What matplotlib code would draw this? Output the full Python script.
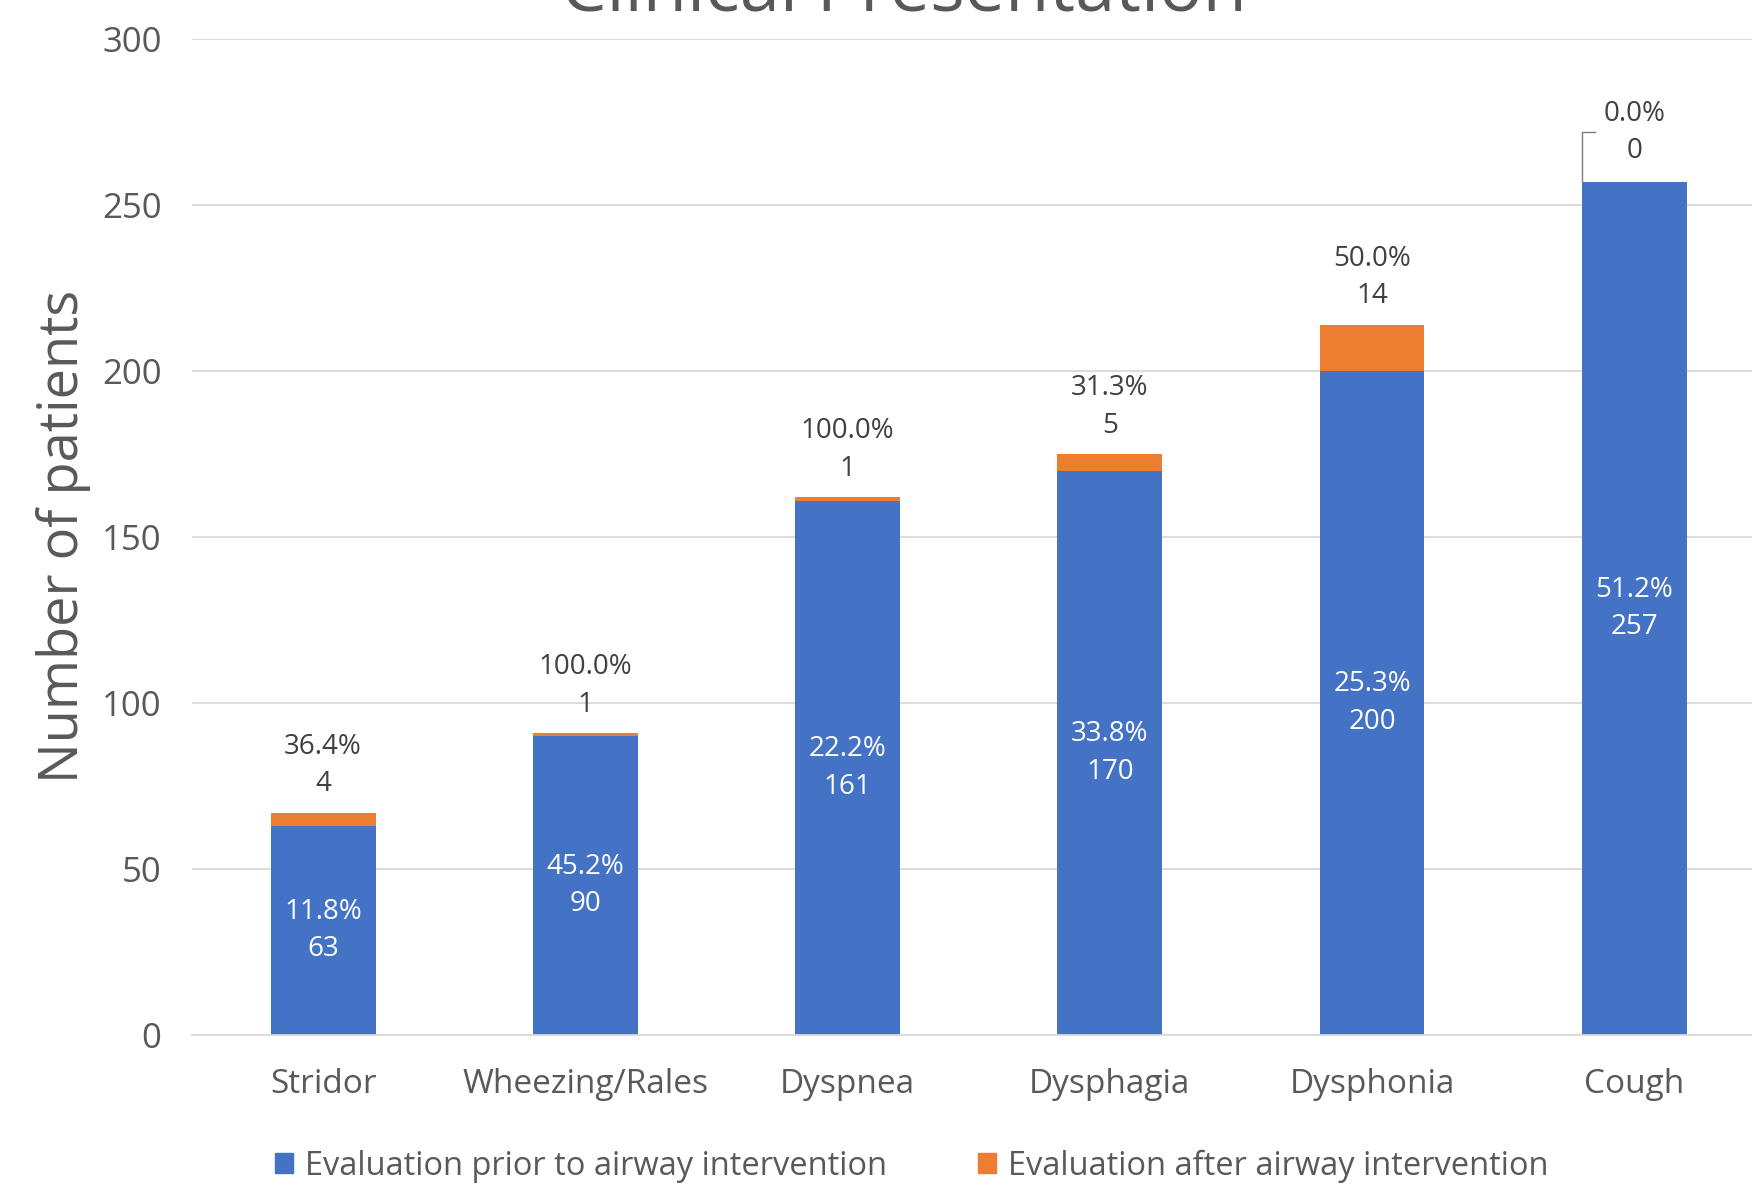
import numpy as np
import matplotlib
matplotlib.use("Agg")
from matplotlib import pyplot as plt
from matplotlib.patches import Patch

plt.rcParams['font.family'] = ['Open Sans', 'DejaVu Sans']

symptoms = ['Stridor', 'Wheezing/Rales', 'Dyspnea', 'Dysphagia', 'Dysphonia', 'Cough']
prior_counts = [63, 90, 161, 170, 200, 257]
after_counts = [4, 1, 1, 5, 14, 0]
prior_pct = [11.8, 45.2, 22.2, 33.8, 25.3, 51.2]
after_pct = [36.4, 100.0, 100.0, 31.3, 50.0, 0.0]
y_ticks = [0, 50, 100, 150, 200, 250, 300]

blue = '#4472C4'
orange = '#ED7D31'
grey_txt = '#595959'
dark_txt = '#404040'

fig = plt.figure(figsize=(17.52, 11.91), dpi=100)
ax = fig.add_axes([0.1096, 0.131, 0.898, 0.836])

x = np.arange(len(symptoms))
w = 0.40
ax.bar(x, prior_counts, w, color=blue, zorder=2, label='Evaluation prior to airway intervention')
ax.bar(x, after_counts, w, bottom=prior_counts, color=orange, zorder=2,
       label='Evaluation after airway intervention')

# labels inside the blue part
for i in range(len(symptoms)):
    ax.text(x[i], prior_counts[i] / 2, f'{prior_pct[i]:.1f}%\n{prior_counts[i]}',
            ha='center', va='center', color='white', fontsize=20, linespacing=1.45)

# labels above the stacked bars
for i in range(len(symptoms)):
    top = prior_counts[i] + after_counts[i]
    off = 14.2
    if after_counts[i] == 0:
        off = 15.0
        lx = x[i] - w / 2
        ax.plot([lx, lx, lx + 0.05], [top, top + off, top + off], color='#7F7F7F',
                lw=1.0, zorder=3, clip_on=False)
    ax.text(x[i], top + off, f'{after_pct[i]:.1f}%\n{after_counts[i]}',
            ha='center', va='center', color=dark_txt, fontsize=20, linespacing=1.45)

ax.set_xlim(-0.5, 5.5)
ax.set_ylim(0, 300)
ax.set_yticks(y_ticks)
ax.set_xticks(x)
ax.set_xticklabels(symptoms)
ax.yaxis.grid(True, color='#D9D9D9', lw=1.3, zorder=0)
ax.set_axisbelow(True)
for s in ['top', 'right', 'left']:
    ax.spines[s].set_visible(False)
ax.spines['bottom'].set_color('#D9D9D9')
ax.spines['bottom'].set_linewidth(1.3)
ax.tick_params(axis='y', length=0, pad=22, labelsize=25, labelcolor=grey_txt)
ax.tick_params(axis='x', length=0, pad=24, labelsize=24, labelcolor=grey_txt)

fig.text(0.036, 0.55, 'Number of patients', rotation=90, ha='center', va='center',
         fontsize=39, color=grey_txt)
fig.text(0.516, 0.99, 'Clinical Presentation', ha='center', va='baseline',
         fontsize=52, color=grey_txt)

handles = [Patch(color=blue), Patch(color=orange)]
fig.legend(handles, ['Evaluation prior to airway intervention', 'Evaluation after airway intervention'],
           loc='center', bbox_to_anchor=(0.5205, 0.021), ncol=2, frameon=False,
           fontsize=23.5, labelcolor=grey_txt, handlelength=0.55, handleheight=0.55,
           handletextpad=0.37, columnspacing=2.8)

fig.savefig('out.png', dpi=100)
